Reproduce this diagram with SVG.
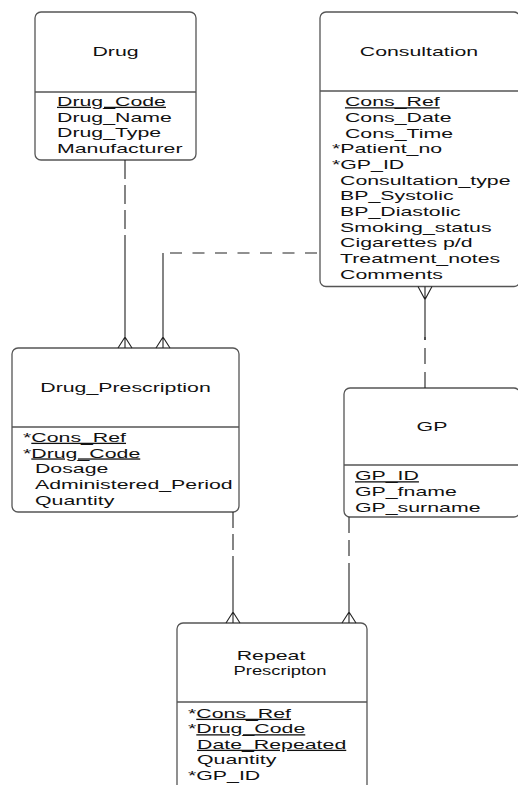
<svg xmlns="http://www.w3.org/2000/svg" width="518" height="785" viewBox="0 0 518 785">
<style>
.box{fill:#fff;stroke:#555;stroke-width:1.3}
.dv{stroke:#555;stroke-width:1.3}
text{font-family:"Liberation Sans",Arial,sans-serif;font-size:13px;fill:#111}
.t{text-anchor:middle}
.u{text-decoration:underline}
.c path{fill:none;stroke:#222;stroke-width:1.1}
</style>
<rect width="518" height="785" fill="#fff"/>

<g id="drug">
<rect class="box" x="35" y="12" width="161" height="148" rx="6"/>
<line class="dv" x1="35" y1="92" x2="196" y2="92"/>
<text class="t" transform="translate(115.5 56) scale(1.64 1)">Drug</text>
<g transform="translate(57 0) scale(1.64 1)">
<text y="106" class="u">Drug_Code</text>
<text y="121.65">Drug_Name</text>
<text y="137.3">Drug_Type</text>
<text y="152.95">Manufacturer</text>
</g>
</g>

<g id="consultation">
<rect class="box" x="320" y="12" width="200" height="274.5" rx="6"/>
<line class="dv" x1="320" y1="91" x2="520" y2="91"/>
<text class="t" transform="translate(419 56) scale(1.64 1)">Consultation</text>
<g transform="translate(332 0) scale(1.64 1)">
<text x="7.9" y="106.5" class="u">Cons_Ref</text>
<text x="7.9" y="122.15">Cons_Date</text>
<text x="7.9" y="137.8">Cons_Time</text>
<text y="153.45">*Patient_no</text>
<text y="169.1">*GP_ID</text>
<text x="4.9" y="184.75">Consultation_type</text>
<text x="4.9" y="200.4">BP_Systolic</text>
<text x="4.9" y="216.05">BP_Diastolic</text>
<text x="4.9" y="231.7">Smoking_status</text>
<text x="4.9" y="247.35">Cigarettes  p/d</text>
<text x="4.9" y="263">Treatment_notes</text>
<text x="4.9" y="278.65">Comments</text>
</g>
</g>

<g id="drug_prescription">
<rect class="box" x="12" y="348" width="227" height="164" rx="6"/>
<line class="dv" x1="12" y1="427" x2="239" y2="427"/>
<text class="t" transform="translate(125.5 392) scale(1.64 1)">Drug_Prescription</text>
<g transform="translate(23 0) scale(1.64 1)">
<text y="442">*<tspan class="u">Cons_Ref</tspan></text>
<text y="457.65">*<tspan class="u">Drug_Code</tspan></text>
<text x="7.3" y="473.3">Dosage</text>
<text x="7.3" y="488.95">Administered_Period</text>
<text x="7.3" y="504.6">Quantity</text>
</g>
</g>

<g id="gp">
<rect class="box" x="344" y="388" width="176" height="129" rx="6"/>
<line class="dv" x1="344" y1="465" x2="520" y2="465"/>
<text class="t" transform="translate(432 430.5) scale(1.64 1)">GP</text>
<g transform="translate(355 0) scale(1.64 1)">
<text y="480.5" class="u">GP_ID</text>
<text y="496.2">GP_fname</text>
<text y="511.9">GP_surname</text>
</g>
</g>

<g id="repeat_prescription">
<rect class="box" x="177" y="623" width="190" height="180" rx="6"/>
<line class="dv" x1="177" y1="702" x2="367" y2="702"/>
<text class="t" transform="translate(271 660) scale(1.64 0.95)">Repeat</text>
<text class="t" transform="translate(280 675) scale(1.64 0.95)" textLength="56.7" lengthAdjust="spacingAndGlyphs">Prescripton</text>
<g transform="translate(188 0) scale(1.64 1)">
<text y="718">*<tspan class="u">Cons_Ref</tspan></text>
<text y="733.5">*<tspan class="u">Drug_Code</tspan></text>
<text x="5.5" y="749" class="u">Date_Repeated</text>
<text x="5.5" y="764.5">Quantity</text>
<text y="780">*GP_ID</text>
</g>
</g>

<g id="connectors" class="c">
<path stroke-dasharray="19 6" d="M125 160V252"/>
<path d="M125 252V348M118 348L125 337L132 348"/>
<path stroke-dasharray="12 10.5" d="M170 253H320"/>
<path d="M163 253V348M156 348L163 337L170 348"/>
<path d="M418 286.5L425 299.5L432 286.5M425 286.5V340"/>
<path stroke-dasharray="16 8" d="M425 388V337"/>
<path stroke-dasharray="16 6" d="M233 512V558"/>
<path d="M233 558V623M226 623L233 612L240 623"/>
<path stroke-dasharray="16 7" d="M349 517V566"/>
<path d="M349 566V623M342 623L349 612L356 623"/>
</g>
</svg>
